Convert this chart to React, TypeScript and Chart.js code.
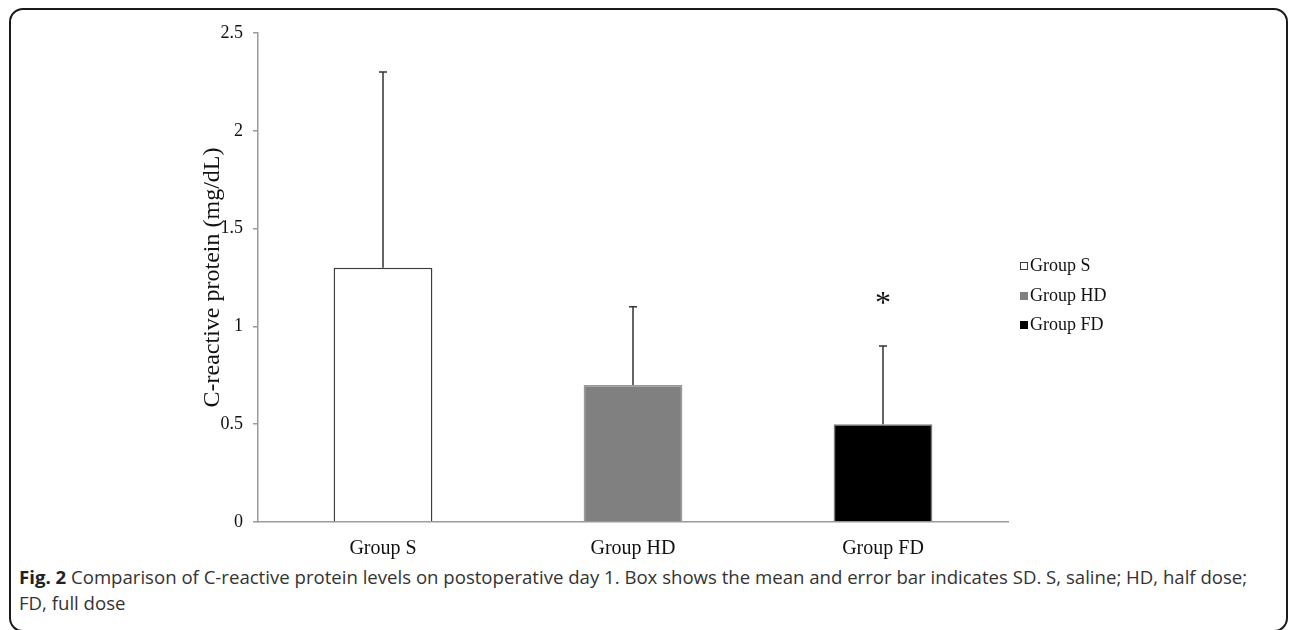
import React, { useEffect, useRef } from 'react';
import { Chart, registerables } from 'chart.js';

Chart.register(...registerables);

const categories = ['Group S', 'Group HD', 'Group FD'];
const means = [1.3, 0.7, 0.5];
const sds = [1.0, 0.4, 0.4];
const marks = ['', '', '*'];
const yTicks = [0, 0.5, 1, 1.5, 2, 2.5];

const fills = ['#ffffff', '#808080', '#000000'];
const edges = ['#3c3c3c', '#9a9a9a', '#7a7a7a'];
const SERIF = '"Liberation Serif", "Times New Roman", serif';

const errorBarPlugin = {
  id: 'errorBars',
  afterDatasetsDraw(chart: any) {
    const ctx = chart.ctx;
    const meta = chart.getDatasetMeta(0);
    const y = chart.scales.y;
    ctx.save();
    meta.data.forEach((el: any, i: number) => {
      const top = y.getPixelForValue(means[i] + sds[i]);
      ctx.strokeStyle = '#333333';
      ctx.lineWidth = 1.5;
      ctx.beginPath();
      ctx.moveTo(el.x, el.y);
      ctx.lineTo(el.x, top);
      ctx.moveTo(el.x - 4, top);
      ctx.lineTo(el.x + 4, top);
      ctx.stroke();
      if (marks[i]) {
        ctx.fillStyle = '#111111';
        ctx.font = '32px ' + SERIF;
        ctx.textAlign = 'center';
        ctx.textBaseline = 'alphabetic';
        ctx.fillText(marks[i], el.x, top - 33);
      }
    });
    ctx.restore();
  },
};

const legendPlugin = {
  id: 'sideLegend',
  afterDraw(chart: any) {
    const ctx = chart.ctx;
    const area = chart.chartArea;
    const x0 = area.right + 12;
    const rows = [266, 296, 325];
    ctx.save();
    ctx.font = '18px ' + SERIF;
    ctx.textAlign = 'left';
    ctx.textBaseline = 'middle';
    categories.forEach((c, i) => {
      const cy = rows[i];
      ctx.fillStyle = fills[i];
      ctx.fillRect(x0, cy - 4, 8, 8);
      ctx.strokeStyle = i === 0 ? '#3c3c3c' : fills[i];
      ctx.lineWidth = 1;
      ctx.strokeRect(x0 + 0.5, cy - 3.5, 7, 7);
      ctx.fillStyle = '#111111';
      ctx.fillText(c, x0 + 10, cy);
    });
    ctx.restore();
  },
};

export default function App() {
  const ref = useRef<HTMLCanvasElement>(null);

  useEffect(() => {
    if (!ref.current) return;
    const chart = new Chart(ref.current, {
      type: 'bar',
      data: {
        labels: categories,
        datasets: [
          {
            data: means,
            backgroundColor: fills,
            borderColor: edges,
            borderWidth: 1.5,
            borderSkipped: 'bottom',
            categoryPercentage: 1,
            barPercentage: 0.395,
          },
        ],
      },
      options: {
        animation: false,
        responsive: false,
        maintainAspectRatio: false,
        layout: { padding: { left: 194, right: 285, top: 33, bottom: 0 } },
        plugins: {
          legend: { display: false },
          tooltip: { enabled: false },
        },
        scales: {
          x: {
            type: 'category',
            offset: true,
            grid: { display: false, drawTicks: false },
            border: { display: true, color: '#9a9a9a', width: 1.5 },
            ticks: {
              color: '#111111',
              font: { family: SERIF, size: 20 },
              padding: 15,
              maxRotation: 0,
            },
            afterFit(scale: any) {
              scale.height = 40;
            },
          },
          y: {
            min: 0,
            max: 2.5,
            grid: {
              display: true,
              drawOnChartArea: false,
              drawTicks: true,
              tickLength: 5,
              color: '#9a9a9a',
              lineWidth: 1.5,
            },
            border: { display: true, color: '#9a9a9a', width: 1.5 },
            ticks: {
              color: '#111111',
              font: { family: SERIF, size: 18 },
              padding: 10,
              callback: (v: any) => String(v),
            },
            afterBuildTicks(scale: any) {
              scale.ticks = yTicks.map((v) => ({ value: v }));
            },
            afterFit(scale: any) {
              scale.width = 64;
            },
            title: {
              display: true,
              text: 'C-reactive protein (mg/dL)',
              color: '#111111',
              font: { family: SERIF, size: 24 },
              padding: { top: 4, bottom: 4 },
            },
          },
        },
      },
      plugins: [errorBarPlugin, legendPlugin],
    });
    return () => chart.destroy();
  }, []);

  return (
    <div style={{ position: 'absolute', left: 0, top: 0, width: 1293, height: 630, background: '#ffffff', overflow: 'hidden' }}>
      <div
        style={{
          position: 'absolute',
          left: 9,
          top: 8,
          width: 1279,
          height: 624,
          border: '2px solid #1a1a1a',
          borderRadius: 14,
          boxSizing: 'border-box',
        }}
      />
      <canvas ref={ref} width={1293} height={562} style={{ position: 'absolute', left: 0, top: 0, width: 1293, height: 562 }} />
      <div
        style={{
          position: 'absolute',
          left: 19,
          top: 564,
          fontFamily: '"Open Sans", sans-serif',
          fontSize: 18.6,
          lineHeight: '26px',
          color: '#333333',
          whiteSpace: 'nowrap',
        }}
      >
        <b style={{ color: '#222222' }}>Fig. 2</b> Comparison of C-reactive protein levels on postoperative day 1. Box shows the mean and error bar indicates SD. S, saline; HD, half dose;
        <br />
        FD, full dose
      </div>
    </div>
  );
}
